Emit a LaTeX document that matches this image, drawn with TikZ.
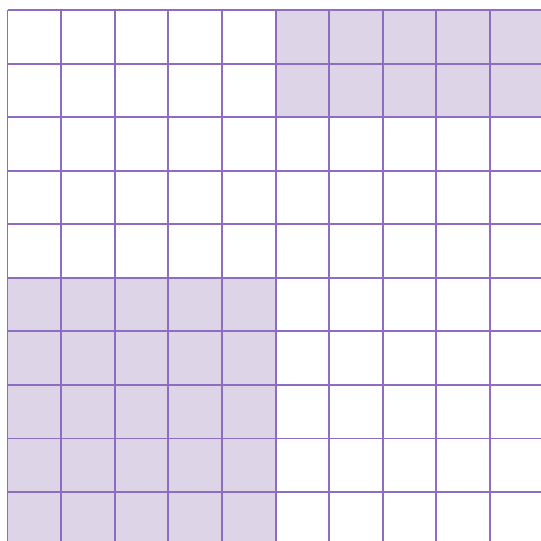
\documentclass[tikz,border=0pt]{standalone}
\definecolor{gridline}{HTML}{8E6CC2}
\definecolor{cellfill}{HTML}{DDD5E7}
\tikzset{gridstroke/.style={draw=gridline,line width=1.9pt},
  cellshade/.style={fill=cellfill}}
\begin{document}
\begin{tikzpicture}[x=1pt,y=-1pt]
\useasboundingbox (0,0) rectangle (541,541);
\clip (0,0) rectangle (541,541);
\fill[cellshade] (276,10) rectangle (545,116);
\fill[cellshade] (7.5,277.5) rectangle (276,545);
\foreach \k in {0,...,9}{
  \draw[gridstroke] ({7.5+53.61*\k},10) -- ({7.5+53.61*\k},545);
  \draw[gridstroke] (7.5,{10+53.56*\k}) -- (545,{10+53.56*\k});
}
\end{tikzpicture}
\end{document}
